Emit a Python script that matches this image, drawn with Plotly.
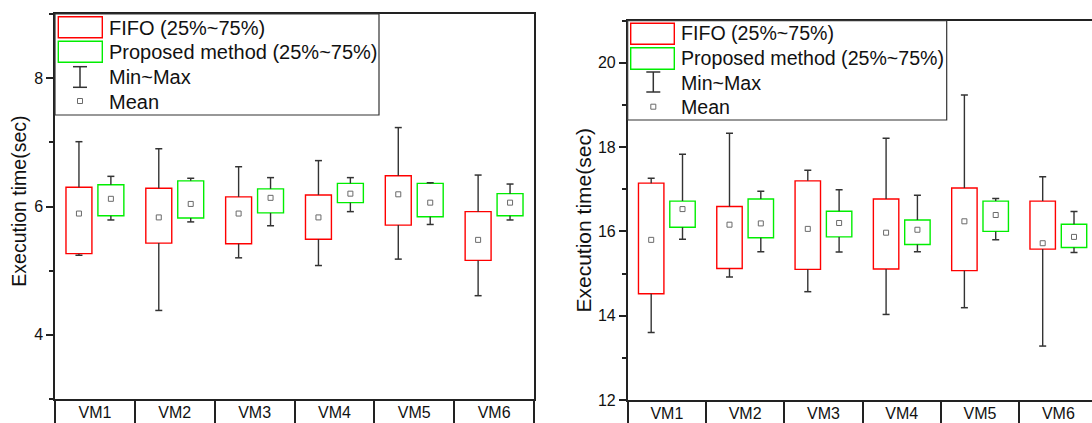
import plotly.graph_objects as go

W, H = 1092, 423

categories = ["VM1", "VM2", "VM3", "VM4", "VM5", "VM6"]
cat_pos = [1, 2, 3, 4, 5, 6]

# ---- Left panel (sec) ----
L_fifo_min = [5.24, 4.38, 5.20, 5.08, 5.18, 4.61]
L_fifo_q1 = [5.265, 5.43, 5.42, 5.49, 5.71, 5.16]
L_fifo_q3 = [6.30, 6.285, 6.15, 6.18, 6.48, 5.92]
L_fifo_max = [7.01, 6.90, 6.62, 6.715, 7.23, 6.49]
L_fifo_mean = [5.89, 5.83, 5.89, 5.83, 6.19, 5.48]

L_prop_min = [5.79, 5.76, 5.70, 5.92, 5.72, 5.79]
L_prop_q1 = [5.855, 5.82, 5.90, 6.06, 5.84, 5.855]
L_prop_q3 = [6.34, 6.40, 6.275, 6.36, 6.36, 6.20]
L_prop_max = [6.47, 6.44, 6.45, 6.45, 6.37, 6.35]
L_prop_mean = [6.12, 6.04, 6.135, 6.20, 6.06, 6.06]

# ---- Right panel (sec) ----
R_fifo_min = [13.60, 14.92, 14.57, 14.03, 14.19, 13.28]
R_fifo_q1 = [14.52, 15.12, 15.10, 15.11, 15.07, 15.58]
R_fifo_q3 = [17.145, 16.59, 17.20, 16.77, 17.03, 16.72]
R_fifo_max = [17.26, 18.33, 17.45, 18.21, 19.235, 17.30]
R_fifo_mean = [15.80, 16.16, 16.06, 15.97, 16.24, 15.72]

R_prop_min = [15.815, 15.52, 15.51, 15.52, 15.80, 15.50]
R_prop_q1 = [16.10, 15.85, 15.87, 15.69, 16.00, 15.62]
R_prop_q3 = [16.72, 16.77, 16.48, 16.27, 16.72, 16.17]
R_prop_max = [17.83, 16.955, 16.99, 16.86, 16.78, 16.47]
R_prop_mean = [16.53, 16.19, 16.20, 16.04, 16.39, 15.87]

legend_labels = ["FIFO (25%~75%)", "Proposed method (25%~75%)", "Min~Max", "Mean"]
y_title = "Execution time(sec)"

RED = "#FF0000"
GREEN = "#00EE00"
WHISK = "#333333"
AXIS = "#222222"
FONT = "Arial, Liberation Sans, sans-serif"
OFF = 0.2
BOXW = 0.325


def px(x):
    return x / W


def py(y):
    return 1 - y / H


fig = go.Figure()


def add_series(xa, ya, shift, mn, q1, q3, mx, mean, color):
    pos = [p + shift for p in cat_pos]
    # box (25%~75%) as floating bar from q1 to q3
    fig.add_trace(go.Bar(
        x=pos, base=q1, y=[b - a for a, b in zip(q1, q3)], width=BOXW,
        marker=dict(color="white", line=dict(color=color, width=1.4)),
        xaxis=xa, yaxis=ya, showlegend=False, hoverinfo="skip"))
    # upper whisker: from q3 up to max, cap at max
    fig.add_trace(go.Scatter(
        x=pos, y=mx, mode="markers", xaxis=xa, yaxis=ya,
        marker=dict(symbol="line-ew", size=5, color=WHISK, line=dict(width=1.5, color=WHISK)),
        error_y=dict(type="data", symmetric=False, array=[0] * len(mx),
                     arrayminus=[a - b for a, b in zip(mx, q3)],
                     width=0, thickness=1.4, color=WHISK),
        showlegend=False, hoverinfo="skip"))
    # lower whisker: from q1 down to min, cap at min
    fig.add_trace(go.Scatter(
        x=pos, y=mn, mode="markers", xaxis=xa, yaxis=ya,
        marker=dict(symbol="line-ew", size=5, color=WHISK, line=dict(width=1.5, color=WHISK)),
        error_y=dict(type="data", symmetric=False, arrayminus=[0] * len(mn),
                     array=[a - b for a, b in zip(q1, mn)],
                     width=0, thickness=1.4, color=WHISK),
        showlegend=False, hoverinfo="skip"))
    # mean
    fig.add_trace(go.Scatter(
        x=pos, y=mean, mode="markers", xaxis=xa, yaxis=ya,
        marker=dict(symbol="square-open", size=5, color="#6a6a6a",
                    line=dict(width=1, color="#6a6a6a")),
        showlegend=False, hoverinfo="skip"))


add_series("x", "y", -OFF, L_fifo_min, L_fifo_q1, L_fifo_q3, L_fifo_max, L_fifo_mean, RED)
add_series("x", "y", OFF, L_prop_min, L_prop_q1, L_prop_q3, L_prop_max, L_prop_mean, GREEN)
add_series("x2", "y2", -OFF, R_fifo_min, R_fifo_q1, R_fifo_q3, R_fifo_max, R_fifo_mean, RED)
add_series("x2", "y2", OFF, R_prop_min, R_prop_q1, R_prop_q3, R_prop_max, R_prop_mean, GREEN)

separators = [p - 0.5 for p in cat_pos] + [cat_pos[-1] + 0.5]


def xaxis_style(domain, rng, anchor):
    return dict(
        domain=domain, range=rng, anchor=anchor,
        tickmode="array", tickvals=cat_pos, ticktext=categories,
        ticks="outside", ticklen=3, tickcolor="rgba(0,0,0,0)",
        ticklabelstandoff=-5,
        minor=dict(tickmode="array", tickvals=separators, ticks="outside",
                   ticklen=30, tickwidth=1.5, tickcolor=AXIS, showgrid=False),
        showline=True, linecolor=AXIS, linewidth=1.5, mirror=True,
        showgrid=False, zeroline=False, automargin=False,
        tickfont=dict(family=FONT, size=16, color="#111"))


def yaxis_style(domain, rng, anchor, mirror):
    return dict(
        domain=domain, range=rng, anchor=anchor,
        tickmode="linear", tick0=0, dtick=2,
        ticks="outside", ticklen=7, tickwidth=1.5, tickcolor=AXIS,
        minor=dict(dtick=1, ticks="outside", ticklen=4, tickwidth=1.5,
                   tickcolor=AXIS, showgrid=False),
        showline=True, linecolor=AXIS, linewidth=1.5, mirror=mirror,
        showgrid=False, zeroline=False, automargin=False,
        tickfont=dict(family=FONT, size=16, color="#111"))


fig.update_layout(
    width=W, height=H,
    margin=dict(l=0, r=0, t=0, b=0),
    paper_bgcolor="white", plot_bgcolor="white",
    barmode="overlay", showlegend=False,
    xaxis=xaxis_style([px(55), px(534)], [0.5, 6.5], "y"),
    yaxis=yaxis_style([1 - 399 / H, 1 - 14 / H], [3, 9], "x", True),
    xaxis2=xaxis_style([px(627.7), 1.0], [0.5, 0.5 + (W - 627.7) / 78.3], "y2"),
    yaxis2=yaxis_style([1 - 400 / H, 1 - 20.7 / H], [12, 21], "x2", False),
)

shapes = []
annotations = []


def add_legend(box, red, green, whisk, mean_pt, text_x, text_ys, fsize):
    x0, x1, y0, y1 = box
    shapes.append(dict(type="rect", xref="paper", yref="paper", layer="above",
                       x0=px(x0), x1=px(x1), y0=py(y1), y1=py(y0),
                       line=dict(color="#333", width=1.2), fillcolor="white"))
    for (rx0, rx1, ry0, ry1), col in ((red, RED), (green, GREEN)):
        shapes.append(dict(type="rect", xref="paper", yref="paper", layer="above",
                           x0=px(rx0), x1=px(rx1), y0=py(ry1), y1=py(ry0),
                           line=dict(color=col, width=1.4), fillcolor="rgba(0,0,0,0)"))
    wx, wy0, wy1, cap = whisk
    shapes.append(dict(type="line", xref="paper", yref="paper", layer="above",
                       x0=px(wx), x1=px(wx), y0=py(wy0), y1=py(wy1),
                       line=dict(color=WHISK, width=1.5)))
    for wy in (wy0, wy1):
        shapes.append(dict(type="line", xref="paper", yref="paper", layer="above",
                           x0=px(wx - cap), x1=px(wx + cap), y0=py(wy), y1=py(wy),
                           line=dict(color=WHISK, width=1.5)))
    mx, my = mean_pt
    shapes.append(dict(type="rect", xref="paper", yref="paper", layer="above",
                       x0=px(mx - 2.5), x1=px(mx + 2.5), y0=py(my + 2.5), y1=py(my - 2.5),
                       line=dict(color="#6a6a6a", width=1), fillcolor="rgba(0,0,0,0)"))
    for lab, ty in zip(legend_labels, text_ys):
        annotations.append(dict(text=lab, xref="paper", yref="paper", x=px(text_x), y=py(ty),
                                xanchor="left", yanchor="middle", showarrow=False,
                                font=dict(family=FONT, size=fsize, color="#111")))


add_legend((55, 379, 14, 115), (58.3, 102.3, 16.7, 37.7), (58.3, 102.3, 41.3, 62.3),
           (80, 66.7, 87.3, 7), (80, 101), 107, (27.7, 52.3, 77.3, 101.7), 20)
add_legend((627.7, 946.7, 20.7, 120), (630.7, 674.3, 23.3, 44.3), (630.7, 674.3, 47.7, 69.3),
           (653.3, 72, 92, 7), (653.3, 106.7), 679, (33.3, 58.3, 82.7, 106.7), 19.6)

annotations.append(dict(text=y_title, xref="paper", yref="paper", x=px(19), y=py(201.7),
                        textangle=-90, showarrow=False, xanchor="center", yanchor="middle",
                        font=dict(family=FONT, size=19.5, color="#111")))
annotations.append(dict(text=y_title, xref="paper", yref="paper", x=px(582.5), y=py(221),
                        textangle=-90, showarrow=False, xanchor="center", yanchor="middle",
                        font=dict(family=FONT, size=21, color="#111")))

fig.update_layout(shapes=shapes, annotations=annotations)
fig.write_html(
    "out.html",
    config={"displayModeBar": False},
    post_script="document.body.style.margin='0';document.body.style.overflow='hidden';",
)
